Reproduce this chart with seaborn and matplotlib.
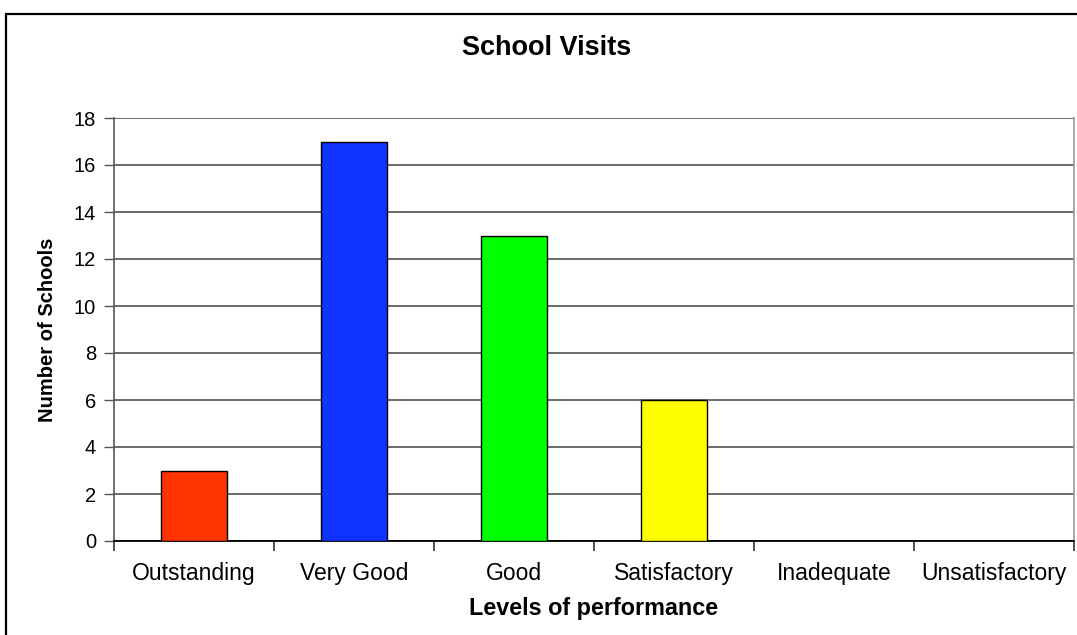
import numpy as np
import pandas as pd
import matplotlib
matplotlib.use("Agg")
import matplotlib.pyplot as plt
import seaborn as sns
from matplotlib.patches import Rectangle

categories = ["Outstanding", "Very Good", "Good", "Satisfactory", "Inadequate", "Unsatisfactory"]
values = [3, 17, 13, 6, 0, 0]
colors = ["#FF3300", "#1133FF", "#00FF00", "#FFFF00", "#999999", "#999999"]
yticks = [0, 2, 4, 6, 8, 10, 12, 14, 16, 18]

sns.set_theme(style="white")
plt.rcParams["font.family"] = ["Liberation Sans", "DejaVu Sans"]
plt.rcParams["text.color"] = "black"
plt.rcParams["axes.labelcolor"] = "black"
plt.rcParams["xtick.color"] = "black"
plt.rcParams["ytick.color"] = "black"

fig = plt.figure(figsize=(10.77, 6.35), dpi=100)
ax = fig.add_axes([114 / 1077, 1 - 541 / 635, (1074 - 114) / 1077, (541 - 118) / 635])

df = pd.DataFrame({"cat": categories, "val": values})
sns.barplot(data=df, x="cat", y="val", hue="cat", palette=dict(zip(categories, colors)),
            saturation=1, legend=False, width=0.41, edgecolor="black", linewidth=1.0,
            ax=ax, zorder=3)

ax.set_xlim(-0.5, len(categories) - 0.5)
ax.set_ylim(0, 18)
ax.set_yticks(yticks)
ax.set_yticklabels([str(v) for v in yticks], fontsize=14.5)
ax.set_xticks(range(len(categories)))
ax.set_xticklabels(categories, fontsize=16.5)
ax.set_xticks(np.arange(-0.5, len(categories), 1.0), minor=True)
ax.tick_params(axis="x", which="major", length=0, pad=15)
ax.tick_params(axis="x", which="minor", length=7, width=1.2, color="#333333", direction="out", bottom=True)
ax.tick_params(axis="y", which="major", length=7, width=1.0, color="#555555", direction="out", left=True, pad=6)

ax.yaxis.grid(True, color="#444444", linewidth=1.1, zorder=0)
ax.set_axisbelow(True)

ax.spines["top"].set_visible(False)
ax.spines["left"].set_color("#555555")
ax.spines["left"].set_linewidth(1.2)
ax.spines["bottom"].set_color("black")
ax.spines["bottom"].set_linewidth(1.3)
ax.spines["right"].set_color("#999999")
ax.spines["right"].set_linewidth(1.2)

ax.set_xlabel("Levels of performance", fontsize=16.8, fontweight="bold", labelpad=9)
ax.set_ylabel("Number of Schools", fontsize=14.5, fontweight="bold", labelpad=12)
fig.text(547 / 1077, 1 - 48 / 635, "School Visits", fontsize=19.5, fontweight="bold",
         ha="center", va="center")

# outer chart border
fig.patches.append(Rectangle((6 / 1077, -0.1), 1.2, (635 - 14) / 635 + 0.1,
                             transform=fig.transFigure, fill=False,
                             edgecolor="black", linewidth=1.6, zorder=10))

fig.savefig("out.png", dpi=100)
